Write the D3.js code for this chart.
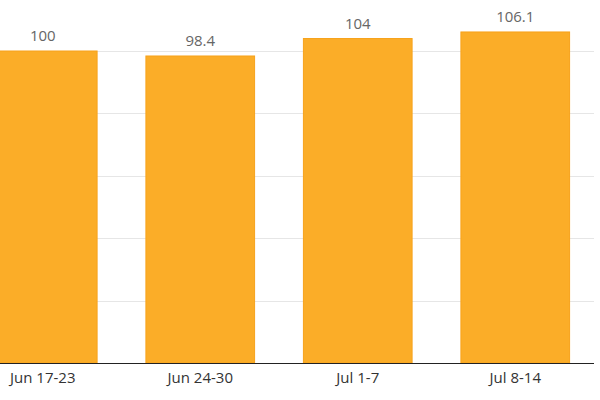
<!DOCTYPE html>
<html>
<head>
<meta charset="utf-8">
<script src="https://cdn.jsdelivr.net/npm/d3@7"></script>
<style>
  body { margin: 0; background: #fff; }
  text { font-family: "Open Sans", sans-serif; }
</style>
</head>
<body>
<div id="chart"></div>
<script>
var categories = ["Jun 17-23", "Jun 24-30", "Jul 1-7", "Jul 8-14"];
var values = [100, 98.4, 104, 106.1];
var yTicks = [20, 40, 60, 80, 100];

var width = 600;
var height = 400;
var baseY = 363;
var plotRight = 594;

var svg = d3.select('#chart')
  .append('svg')
  .attr('width', width)
  .attr('height', height);

var x = d3.scaleBand()
  .domain(categories)
  .range([-36, plotRight])
  .paddingInner(0.31)
  .paddingOuter(0.155);

var y = d3.scaleLinear()
  .domain([0, 100])
  .range([baseY, 51]);

// gridlines
svg.append('g')
  .selectAll('line')
  .data(yTicks)
  .enter()
  .append('line')
  .attr('x1', 0)
  .attr('x2', plotRight)
  .attr('y1', function(d) { return Math.round(y(d)) + 0.5; })
  .attr('y2', function(d) { return Math.round(y(d)) + 0.5; })
  .attr('stroke', '#e6e6e6')
  .attr('stroke-width', 1);

// bars
svg.append('g')
  .selectAll('rect')
  .data(values)
  .enter()
  .append('rect')
  .attr('x', function(d, i) { return x(categories[i]); })
  .attr('y', function(d) { return y(d); })
  .attr('width', x.bandwidth())
  .attr('height', function(d) { return baseY - y(d); })
  .attr('fill', '#fbad28')
  .attr('stroke', '#f7a21b')
  .attr('stroke-width', 1);

// value labels
svg.append('g')
  .selectAll('text')
  .data(values)
  .enter()
  .append('text')
  .attr('x', function(d, i) { return x(categories[i]) + x.bandwidth() / 2; })
  .attr('y', function(d) { return y(d) - 10; })
  .attr('text-anchor', 'middle')
  .attr('style', 'font-size: 15px; fill: #666')
  .text(function(d) { return d; });

// x axis
var xAxis = svg.append('g')
  .attr('transform', 'translate(0,' + baseY + ')')
  .call(d3.axisBottom(x).tickSize(0).tickPadding(9));

xAxis.select('.domain')
  .attr('d', 'M0,0.5H' + plotRight)
  .attr('stroke', '#222');

xAxis.selectAll('text')
  .attr('style', 'font-size: 15px; fill: #333; font-family: "Open Sans", sans-serif');
</script>
</body>
</html>
